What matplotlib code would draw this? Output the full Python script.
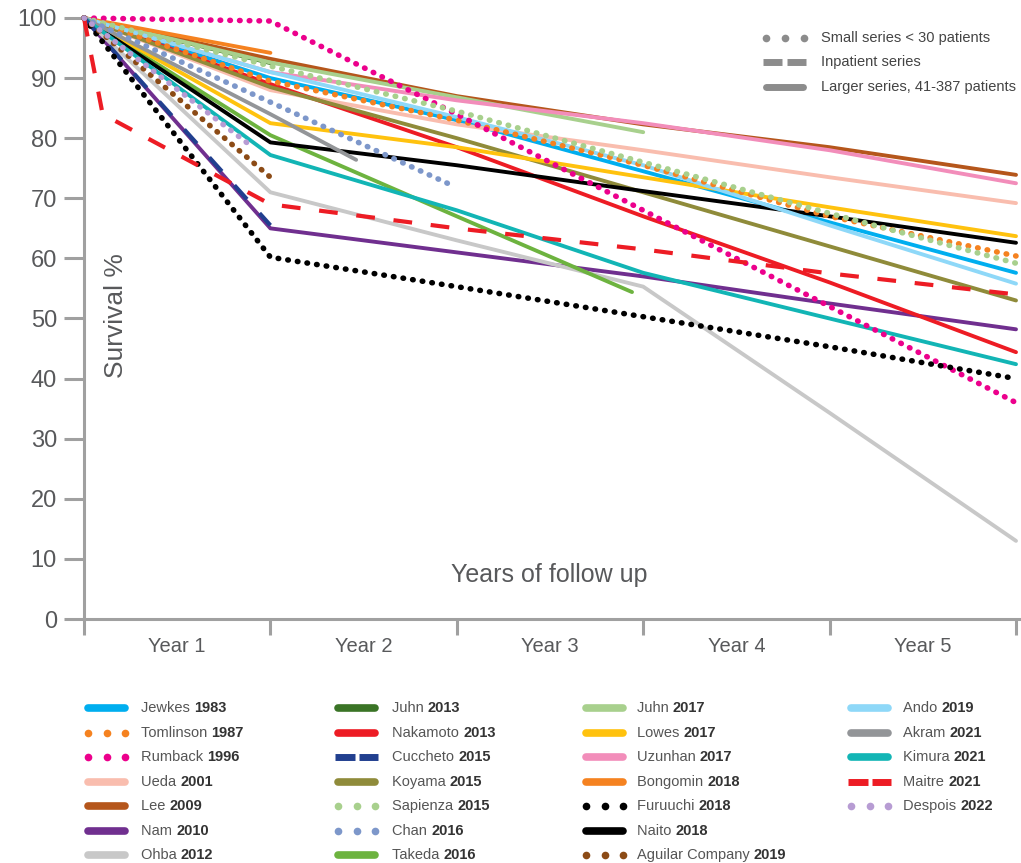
import numpy as np
import matplotlib.pyplot as plt
from matplotlib.lines import Line2D

plt.rcParams['font.family'] = ['Liberation Sans', 'DejaVu Sans']

# Data: survival % at end of each year of follow up
names = ['Jewkes', 'Tomlinson', 'Rumback', 'Ueda', 'Lee', 'Nam', 'Ohba',
         'Juhn', 'Nakamoto', 'Cuccheto', 'Koyama', 'Sapienza', 'Chan', 'Takeda',
         'Juhn', 'Lowes', 'Uzunhan', 'Bongomin', 'Furuuchi', 'Naito', 'Aguilar Company',
         'Ando', 'Akram', 'Kimura', 'Maitre', 'Despois']
pub_years = ['1983', '1987', '1996', '2001', '2009', '2010', '2012',
             '2013', '2013', '2015', '2015', '2015', '2016', '2016',
             '2017', '2017', '2017', '2018', '2018', '2018', '2019',
             '2019', '2021', '2021', '2021', '2022']
kinds = ['large', 'small', 'small', 'large', 'large', 'large', 'large',
         'large', 'large', 'inpatient', 'large', 'small', 'small', 'large',
         'large', 'large', 'large', 'large', 'small', 'large', 'small',
         'large', 'large', 'large', 'inpatient', 'small']
colors = ['#00AEEF', '#F58220', '#EC008C', '#F9BDAE', '#B5561B', '#702F8F', '#C8C8C8',
          '#3A7426', '#ED1C24', '#213F8F', '#8F8B3A', '#A8D08D', '#7D97CA', '#6DB33F',
          '#A8D08D', '#FFC20E', '#F28DBA', '#F58220', '#000000', '#000000', '#8C4B16',
          '#8ED8F8', '#939598', '#12B5B5', '#ED1C24', '#B79CD3']

full = [0, 1, 2, 3, 4, 5]
xs = [full, full, full, full, full, full, full,
      [0, 1], full, [0, 1], full, full, [0, 1, 1.95], [0, 1, 2, 2.94],
      [0, 1, 2, 3], full, full, [0, 1], full, full, [0, 1],
      full, [0, 1, 1.46], full, [0, 0.1, 1, 2, 3, 4, 5], [0, 0.91]]
ys = [[100, 90, 83, 74.5, 66, 57.6],
      [100, 89.5, 83, 75.5, 67, 60.4],
      [100, 99.5, 84, 68, 52, 36],
      [100, 88, 82.3, 78, 73.5, 69.2],
      [100, 93.2, 87, 82.3, 78.5, 73.9],
      [100, 65, 61, 57, 52.5, 48.2],
      [100, 71, 63, 55.3, 34.3, 13],
      [100, 92.5],
      [100, 89, 78.5, 67, 56, 44.4],
      [100, 65.5],
      [100, 88.5, 80, 71, 62, 53],
      [100, 92, 84.5, 76, 67.5, 59.2],
      [100, 86, 72.5],
      [100, 80.5, 67, 54.4],
      [100, 92.6, 86.8, 81],
      [100, 82.5, 78.5, 73.5, 68.5, 63.7],
      [100, 91, 86.3, 82.5, 78, 72.5],
      [100, 94.2],
      [100, 60.2, 55.3, 50.3, 45.3, 40],
      [100, 79.3, 75.5, 71.2, 67, 62.6],
      [100, 73.5],
      [100, 91, 83.5, 75.5, 65.5, 55.8],
      [100, 84, 76.4],
      [100, 77.2, 68, 57.6, 50, 42.4],
      [100, 84, 69, 65, 61.5, 57.5, 54],
      [100, 78.4]]

year_labels = ['Year 1', 'Year 2', 'Year 3', 'Year 4', 'Year 5']
key_labels = ['Small series < 30 patients', 'Inpatient series', 'Larger series, 41-387 patients']

W, H = 1021, 863
axis_col = '#A0A0A0'
text_col = '#58595B'

fig = plt.figure(figsize=(W / 100, H / 100), dpi=100)
ax = fig.add_axes([84 / W, 1 - 619 / H, (W - 84) / W, (619 - 18) / H])


def fx(px):
    return px / W


def fy(py):
    return 1 - py / H


def style(kind):
    if kind == 'small':
        return dict(lw=4.0, linestyle=(0, (0.1, 1.65)), dash_capstyle='round')
    if kind == 'inpatient':
        return dict(lw=3.0, linestyle=(0, (4.5, 4.5)), dash_capstyle='butt')
    return dict(lw=2.8, solid_capstyle='round')


order = [k for k in range(len(names)) if kinds[k] == 'large'] + \
        [k for k in range(len(names)) if kinds[k] != 'large']
for k in order:
    ax.plot(xs[k], ys[k], color=colors[k], clip_on=False, zorder=3, **style(kinds[k]))

ax.set_xlim(0, 5 * (W - 84) / (1016 - 84))
ax.set_ylim(0, 100)
for s in ['top', 'right']:
    ax.spines[s].set_visible(False)
for s in ['left', 'bottom']:
    ax.spines[s].set_color(axis_col)
    ax.spines[s].set_linewidth(2.2)
    ax.spines[s].set_zorder(1)

ax.set_yticks(np.arange(0, 101, 10))
ax.tick_params(axis='y', length=14.5, width=2.2, color=axis_col, labelcolor=text_col,
               labelsize=17, pad=5)
ax.set_xticks(full)
ax.set_xticklabels([])
ax.tick_params(axis='x', which='major', length=11.5, width=2.2, color=axis_col)
ax.set_xticks([0.5, 1.5, 2.5, 3.5, 4.5], minor=True)
ax.set_xticklabels(year_labels, minor=True)
ax.tick_params(axis='x', which='minor', length=0, labelsize=14.5, labelcolor=text_col, pad=13)

ax.text(fx(116), fy(316), 'Survival %', transform=fig.transFigure, rotation=90,
        ha='center', va='center', fontsize=19, color=text_col)
ax.text(fx(549), fy(575), 'Years of follow up', transform=fig.transFigure,
        ha='center', va='center', fontsize=18, color=text_col)

# key for line styles (upper right)
key_col = '#8C8C8C'
key_y = [38, 62, 87]
fig.add_artist(Line2D([fx(766), fx(785), fx(804)], [fy(key_y[0])] * 3, ls='none',
                      marker='o', ms=5.5, mfc=key_col, mec='none'))
fig.add_artist(Line2D([fx(763), fx(782)], [fy(key_y[1])] * 2, color=key_col, lw=5, solid_capstyle='butt'))
fig.add_artist(Line2D([fx(787), fx(806)], [fy(key_y[1])] * 2, color=key_col, lw=5, solid_capstyle='butt'))
fig.add_artist(Line2D([fx(766), fx(803)], [fy(key_y[2])] * 2, color=key_col, lw=5, solid_capstyle='round'))
for lab, yy in zip(key_labels, key_y):
    fig.text(fx(821), fy(yy), lab, ha='left', va='center', fontsize=10.5, color='#444444')

# study legend (bottom)
col_hx = [85, 335, 583, 848]
col_tx = [141, 392, 637, 903]
row_y = [708, 732.5, 757, 781.5, 806, 830.5, 855]
for k in range(len(names)):
    c, r = divmod(k, 7)
    x0, x1 = col_hx[c], col_hx[c] + 43
    yy = fy(row_y[r])
    if kinds[k] == 'small':
        fig.add_artist(Line2D([fx(x0 + 3), fx(x0 + 21.5), fx(x1 - 3)], [yy] * 3, ls='none',
                              marker='o', ms=5.5, mfc=colors[k], mec='none'))
    elif kinds[k] == 'inpatient':
        fig.add_artist(Line2D([fx(x0), fx(x0 + 19.5)], [yy] * 2, color=colors[k], lw=5, solid_capstyle='butt'))
        fig.add_artist(Line2D([fx(x0 + 23.5), fx(x1)], [yy] * 2, color=colors[k], lw=5, solid_capstyle='butt'))
    else:
        fig.add_artist(Line2D([fx(x0 + 3), fx(x1 - 3)], [yy] * 2, color=colors[k], lw=5.5,
                              solid_capstyle='round'))
    t = fig.text(fx(col_tx[c]), yy, names[k] + ' ', ha='left', va='center', fontsize=10.5,
                 color='#555555')
    ax.annotate(pub_years[k], xy=(1, 0), xycoords=t, ha='left', va='bottom',
                fontsize=10.5, color='#333333', fontweight='bold', annotation_clip=False)

fig.savefig('out.png', dpi=100)
